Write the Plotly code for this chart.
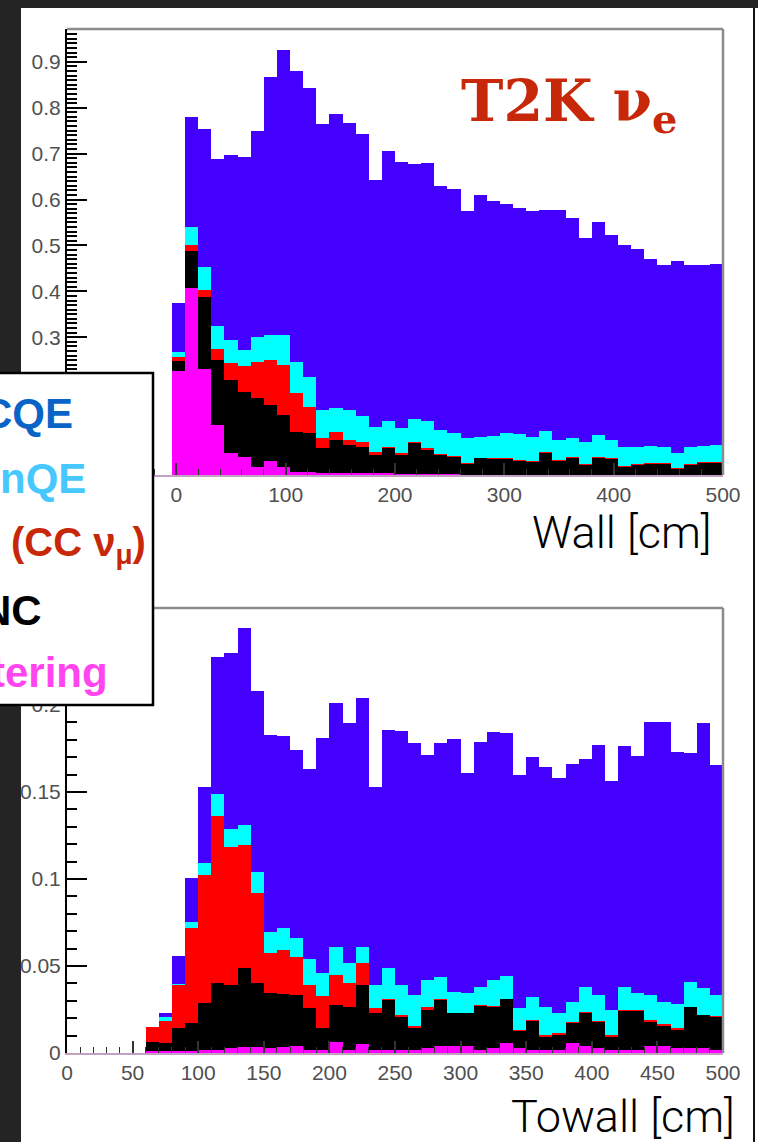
import plotly.graph_objects as go

W, H = 758, 1142

# ---------------- Top panel: Wall [cm]  (12 cm bins, first filled bin starts at -4 cm)
wall_start = -4
wall_bw = 12
# cumulative stack tops (total -> lowest component)
wall_total = [0.375, 0.779, 0.754, 0.689, 0.696, 0.693, 0.750, 0.867, 0.925, 0.880,
              0.842, 0.765, 0.786, 0.767, 0.743, 0.643, 0.705, 0.681, 0.678, 0.680,
              0.630, 0.623, 0.576, 0.609, 0.596, 0.591, 0.582, 0.575, 0.578, 0.578,
              0.560, 0.517, 0.551, 0.522, 0.500, 0.493, 0.471, 0.457, 0.467, 0.457,
              0.457, 0.460]
wall_nqe = [0.268, 0.541, 0.452, 0.324, 0.293, 0.272, 0.301, 0.304, 0.304, 0.246,
            0.214, 0.141, 0.147, 0.141, 0.128, 0.105, 0.117, 0.103, 0.122, 0.118,
            0.098, 0.091, 0.080, 0.083, 0.086, 0.092, 0.089, 0.083, 0.096, 0.076,
            0.080, 0.072, 0.087, 0.076, 0.060, 0.062, 0.063, 0.062, 0.047, 0.062,
            0.063, 0.065]
wall_ccnumu = [0.257, 0.500, 0.402, 0.275, 0.243, 0.237, 0.246, 0.250, 0.239, 0.178,
               0.149, 0.080, 0.094, 0.076, 0.072, 0.051, 0.060, 0.047, 0.071, 0.058,
               0.046, 0.042, 0.027, 0.038, 0.036, 0.036, 0.032, 0.031, 0.051, 0.033,
               0.040, 0.024, 0.040, 0.036, 0.020, 0.024, 0.027, 0.026, 0.016, 0.024,
               0.029, 0.029]
wall_nc = [0.248, 0.487, 0.388, 0.250, 0.207, 0.181, 0.167, 0.152, 0.130, 0.094,
           0.091, 0.058, 0.076, 0.065, 0.062, 0.043, 0.058, 0.044, 0.069, 0.055,
           0.043, 0.040, 0.025, 0.036, 0.034, 0.034, 0.030, 0.029, 0.049, 0.031,
           0.038, 0.022, 0.038, 0.034, 0.018, 0.022, 0.025, 0.024, 0.014, 0.022,
           0.027, 0.027]
wall_scat = [0.227, 0.408, 0.231, 0.110, 0.047, 0.040, 0.018, 0.030, 0.018, 0.007,
             0.007, 0.005, 0.004, 0.004, 0.004, 0.003, 0.003, 0.002, 0.002, 0.002,
             0.002, 0.001, 0.0, 0.0, 0.0, 0.0, 0.0, 0.0, 0.0, 0.0,
             0.0, 0.0, 0.0, 0.0, 0.0, 0.0, 0.0, 0.0, 0.0, 0.0,
             0.0, 0.0]

# ---------------- Bottom panel: Towall [cm] (10 cm bins, first filled bin starts at 60 cm)
tow_start = 60
tow_bw = 10
tow_total = [0.015, 0.0228, 0.0557, 0.1004, 0.1527, 0.2278, 0.230, 0.244, 0.208, 0.183,
             0.182, 0.174, 0.163, 0.181, 0.201, 0.1895, 0.204, 0.153, 0.1856, 0.185,
             0.1784, 0.1713, 0.1784, 0.1803, 0.1607, 0.1789, 0.1843, 0.1837, 0.1598, 0.1703,
             0.1642, 0.1579, 0.1661, 0.169, 0.177, 0.1565, 0.1764, 0.1707, 0.1902, 0.1902,
             0.1732, 0.1726, 0.1897, 0.1655]
tow_nqe = [0.015, 0.0209, 0.0397, 0.0755, 0.109, 0.149, 0.129, 0.131, 0.104, 0.0697,
           0.0716, 0.0659, 0.0538, 0.0462, 0.0611, 0.0515, 0.0611, 0.039, 0.0487, 0.0391,
           0.0333, 0.042, 0.0435, 0.0352, 0.0343, 0.0381, 0.042, 0.0443, 0.0257, 0.032,
           0.0266, 0.0228, 0.0295, 0.0377, 0.0333, 0.0247, 0.0381, 0.0343, 0.0333, 0.0295,
           0.028, 0.041, 0.0372, 0.0333]
tow_ccnumu = [0.0148, 0.0186, 0.039, 0.0716, 0.1023, 0.136, 0.1186, 0.1195, 0.0918, 0.0573,
              0.0592, 0.0554, 0.039, 0.0326, 0.0448, 0.040, 0.0515, 0.0257, 0.031, 0.0218,
              0.0155, 0.0262, 0.0308, 0.0232, 0.0232, 0.0274, 0.027, 0.0308, 0.0132, 0.019,
              0.0102, 0.0113, 0.0178, 0.0238, 0.0184, 0.0103, 0.0245, 0.0245, 0.019, 0.0165,
              0.0142, 0.0266, 0.0218, 0.0213]
tow_nc = [0.0065, 0.0059, 0.0142, 0.0174, 0.0285, 0.040, 0.039, 0.0487, 0.040, 0.0343,
          0.0339, 0.0333, 0.0257, 0.0146, 0.0276, 0.0266, 0.039, 0.0228, 0.0305, 0.0209,
          0.0142, 0.0247, 0.0305, 0.0228, 0.0228, 0.027, 0.0266, 0.0308, 0.0128, 0.0186,
          0.0094, 0.0103, 0.0174, 0.0228, 0.018, 0.0094, 0.0243, 0.0243, 0.018, 0.0155,
          0.0132, 0.0266, 0.0218, 0.0205]
tow_scat = [0.001, 0.001, 0.001, 0.0012, 0.0015, 0.002, 0.003, 0.0036, 0.0036, 0.003,
            0.0035, 0.004, 0.002, 0.0015, 0.0065, 0.002, 0.005, 0.0015, 0.002, 0.002,
            0.002, 0.003, 0.004, 0.004, 0.004, 0.002, 0.003, 0.006, 0.003, 0.002,
            0.002, 0.002, 0.006, 0.004, 0.003, 0.002, 0.002, 0.002, 0.004, 0.004,
            0.003, 0.003, 0.003, 0.002]

layer_colors = ["#4400ff", "#00ffff", "#ff0000", "#000000", "#ff00ff"]
layer_names = ["CCQE", "CCnQE", "CC numu", "NC", "scattering"]

fig = go.Figure()


def add_stack(layers, start, bw, xa, ya):
    n = len(layers[0])
    centers = [start + bw * (i + 0.5) for i in range(n)]
    for vals, col, name in zip(layers, layer_colors, layer_names):
        fig.add_trace(go.Bar(x=centers, y=vals, width=[bw] * n, name=name,
                             marker=dict(color=col, line=dict(width=0)),
                             xaxis=xa, yaxis=ya, showlegend=False,
                             hoverinfo="skip"))


add_stack([wall_total, wall_nqe, wall_ccnumu, wall_nc, wall_scat],
          wall_start, wall_bw, "x", "y")
add_stack([tow_total, tow_nqe, tow_ccnumu, tow_nc, tow_scat],
          tow_start, tow_bw, "x2", "y2")


def px_x(v):
    return v / W


def px_y(v):
    return 1 - v / H


xdom = [px_x(67), px_x(723)]
tickfont = dict(family="Liberation Sans, Arial", size=21, color="#505050")
xline = "#c0a2c0"

common_x = dict(showline=True, linecolor=xline, linewidth=2, ticks="inside",
                tickcolor="#333333", tickwidth=1.5, ticklen=12, showgrid=False,
                zeroline=False, tickfont=tickfont, fixedrange=True, automargin=False)
common_y = dict(showline=True, linecolor="black", linewidth=2, ticks="inside",
                tickcolor="black", tickwidth=2, ticklen=20, showgrid=False,
                zeroline=False, tickfont=tickfont, fixedrange=True, automargin=False)

fig.update_layout(
    width=W, height=H, autosize=False,
    margin=dict(l=0, r=0, t=0, b=0, pad=0, autoexpand=False),
    paper_bgcolor="#242424",
    plot_bgcolor="white",
    barmode="overlay", bargap=0,
    hovermode=False,
    xaxis=dict(domain=xdom, anchor="y", range=[-100, 500], dtick=100, tick0=0,
               minor=dict(dtick=20, ticks="inside", ticklen=6, tickcolor="#333333", tickwidth=1.2),
               **common_x),
    yaxis=dict(domain=[px_y(475), px_y(29)], anchor="x", range=[0, 0.9714], dtick=0.1, tick0=0,
               minor=dict(dtick=0.01, ticks="inside", ticklen=10, tickcolor="black", tickwidth=1.5),
               **common_y),
    xaxis2=dict(domain=xdom, anchor="y2", range=[0, 500], dtick=50, tick0=0,
                minor=dict(dtick=10, ticks="inside", ticklen=6, tickcolor="#333333", tickwidth=1.2),
                **common_x),
    yaxis2=dict(domain=[px_y(1053), px_y(608)], anchor="x2", range=[0, 0.2557], dtick=0.05, tick0=0,
                minor=dict(dtick=0.01, ticks="inside", ticklen=10, tickcolor="black", tickwidth=1.5),
                **common_y),
)

shapes = [
    # white slide area
    dict(type="rect", xref="paper", yref="paper", x0=px_x(21), x1=1.0, y0=0, y1=px_y(8),
         fillcolor="white", line=dict(width=0), layer="below"),
    dict(type="line", xref="paper", yref="paper", x0=px_x(754), x1=px_x(754), y0=0, y1=px_y(8),
         line=dict(color="#111111", width=2), layer="below"),
]
# grey frame (top and right) of both pads
for xa, ya in (("x", "y"), ("x2", "y2")):
    shapes.append(dict(type="line", xref=f"{xa} domain", yref=f"{ya} domain", x0=0, x1=1, y0=1, y1=1,
                       line=dict(color="#8c8c8c", width=2.5), layer="above"))
    shapes.append(dict(type="line", xref=f"{xa} domain", yref=f"{ya} domain", x0=1, x1=1, y0=0, y1=1,
                       line=dict(color="#8c8c8c", width=2.5), layer="above"))
# legend box (cut off by the left edge)
shapes.append(dict(type="rect", xref="paper", yref="paper", x0=px_x(-6), x1=px_x(153),
                   y0=px_y(705), y1=px_y(373), fillcolor="white",
                   line=dict(color="black", width=2.5), layer="above"))
fig.update_layout(shapes=shapes)

leg_font = "Liberation Sans, Arial"
annotations = [
    dict(text="<b>T2K ν<sub>e</sub></b>", x=px_x(459), y=px_y(104), xanchor="left", yanchor="middle",
         font=dict(family="DejaVu Serif", size=57, color="#c8280a")),
    dict(text="Wall [cm]", x=px_x(714), y=px_y(532), xanchor="right", yanchor="middle",
         font=dict(family="Roboto, Lato, Liberation Sans", size=45, color="black", weight=300)),
    dict(text="Towall [cm]", x=px_x(737), y=px_y(1116), xanchor="right", yanchor="middle",
         font=dict(family="Roboto, Lato, Liberation Sans", size=45, color="black", weight=300)),
    dict(text="<b>CQE</b>", x=px_x(75), y=px_y(413), xanchor="right", yanchor="middle",
         font=dict(family=leg_font, size=42, color="#0a64c8")),
    dict(text="<b>nQE</b>", x=px_x(88), y=px_y(478), xanchor="right", yanchor="middle",
         font=dict(family=leg_font, size=42, color="#46c8ff")),
    dict(text="<b>(CC ν<sub>μ</sub>)</b>", x=px_x(148), y=px_y(545), xanchor="right", yanchor="middle",
         font=dict(family=leg_font, size=40, color="#c8280a")),
    dict(text="<b>NC</b>", x=px_x(44), y=px_y(610), xanchor="right", yanchor="middle",
         font=dict(family=leg_font, size=42, color="black")),
    dict(text="<b>tering</b>", x=px_x(110), y=px_y(672), xanchor="right", yanchor="middle",
         font=dict(family=leg_font, size=42, color="#ff44f0")),
]
for a in annotations:
    a.update(xref="paper", yref="paper", showarrow=False)
fig.update_layout(annotations=annotations)

fig.write_html("out.html")
